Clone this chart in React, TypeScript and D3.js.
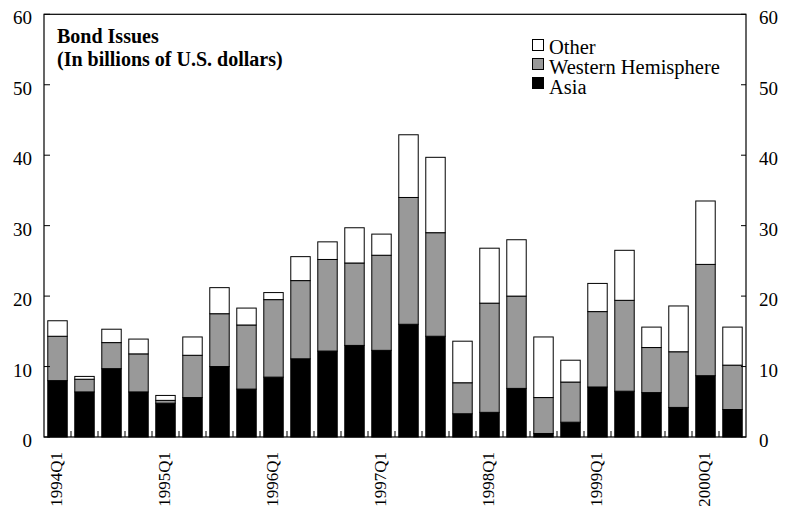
import * as d3 from 'd3';
import { useEffect, useRef } from 'react';

// quarterly bond issues, billions of US$
const quarters = [
  '1994Q1', '1994Q2', '1994Q3', '1994Q4',
  '1995Q1', '1995Q2', '1995Q3', '1995Q4',
  '1996Q1', '1996Q2', '1996Q3', '1996Q4',
  '1997Q1', '1997Q2', '1997Q3', '1997Q4',
  '1998Q1', '1998Q2', '1998Q3', '1998Q4',
  '1999Q1', '1999Q2', '1999Q3', '1999Q4',
  '2000Q1', '2000Q2',
];
const asia = [8.0, 6.4, 9.7, 6.4, 4.8, 5.6, 10.0, 6.8, 8.5, 11.1, 12.2, 13.0, 12.3, 16.0, 14.3, 3.3, 3.5, 6.9, 0.5, 2.1, 7.1, 6.5, 6.3, 4.2, 8.7, 3.9];
const westernHemisphere = [6.3, 1.8, 3.7, 5.4, 0.4, 6.0, 7.5, 9.1, 11.0, 11.1, 13.0, 11.7, 13.5, 18.0, 14.7, 4.4, 15.5, 13.1, 5.1, 5.7, 10.7, 12.9, 6.4, 7.9, 15.8, 6.3];
const other = [2.2, 0.4, 1.9, 2.1, 0.7, 2.6, 3.7, 2.4, 1.0, 3.4, 2.5, 5.0, 3.0, 8.9, 10.7, 5.9, 7.8, 8.0, 8.6, 3.1, 4.0, 7.1, 2.9, 6.5, 9.0, 5.4];
const yTicks = [0, 10, 20, 30, 40, 50, 60];
const legendItems = ['Other', 'Western Hemisphere', 'Asia'];

const keys = ['asia', 'west', 'other'];
const colors = { asia: '#000000', west: '#999999', other: '#ffffff' };
const font = '"Liberation Serif", "Times New Roman", serif';

const App = () => {
  const ref = useRef<SVGSVGElement>(null);

  useEffect(() => {
    const svg = d3.select(ref.current);
    svg.selectAll('*').remove();

    const W = 786, H = 508;
    const left = 44, right = 746, top = 14.3, bottom = 437;

    const rows = quarters.map((q, i) => ({
      q, asia: asia[i], west: westernHemisphere[i], other: other[i],
    }));

    const x = d3.scaleBand().domain(quarters).range([left, right])
      .paddingInner(0.28).paddingOuter(0.14);
    const y = d3.scaleLinear().domain([0, 60]).range([bottom, top]);

    const stack = d3.stack<any>().keys(keys)(rows);

    // bars
    svg.append('g')
      .selectAll('g')
      .data(stack)
      .join('g')
      .attr('fill', d => colors[d.key])
      .selectAll('rect')
      .data(d => d)
      .join('rect')
      .attr('x', d => x(d.data.q))
      .attr('y', d => y(d[1]))
      .attr('width', x.bandwidth())
      .attr('height', d => y(d[0]) - y(d[1]))
      .attr('stroke', '#000')
      .attr('stroke-width', 1);

    // frame
    svg.append('rect')
      .attr('x', left).attr('y', top)
      .attr('width', right - left).attr('height', bottom - top)
      .attr('fill', 'none').attr('stroke', '#000').attr('stroke-width', 1.2);

    // y ticks both sides, pointing inward
    const yt = svg.append('g');
    yt.selectAll('.tl').data(yTicks).join('line')
      .attr('x1', left).attr('x2', left + 6)
      .attr('y1', d => y(d)).attr('y2', d => y(d))
      .attr('stroke', '#000');
    yt.selectAll('.tr').data(yTicks).join('line')
      .attr('class', 'tr')
      .attr('x1', right - 5).attr('x2', right)
      .attr('y1', d => y(d)).attr('y2', d => y(d))
      .attr('stroke', '#000');
    yt.selectAll('.ll').data(yTicks).join('text')
      .attr('class', 'll')
      .attr('x', 32).attr('y', d => y(d) + 10)
      .attr('text-anchor', 'end')
      .attr('font-family', font).attr('font-size', 19)
      .text(d => d);
    yt.selectAll('.lr').data(yTicks).join('text')
      .attr('class', 'lr')
      .attr('x', 759).attr('y', d => y(d) + 10)
      .attr('font-family', font).attr('font-size', 19)
      .text(d => d);

    // x ticks between bars
    const step = x.step();
    svg.append('g').selectAll('line')
      .data(quarters.slice(1))
      .join('line')
      .attr('x1', (d, i) => left + (i + 1) * step)
      .attr('x2', (d, i) => left + (i + 1) * step)
      .attr('y1', bottom).attr('y2', bottom - 6)
      .attr('stroke', '#000');

    // x labels, Q1 only
    svg.append('g').selectAll('text')
      .data(quarters.filter(q => q.endsWith('Q1')))
      .join('text')
      .attr('transform', d => `translate(${x(d) + x.bandwidth() / 2 + 4},${bottom + 15}) rotate(-90)`)
      .attr('text-anchor', 'end')
      .attr('font-family', font).attr('font-size', 17)
      .text(d => d);

    // title
    const title = svg.append('text')
      .attr('font-family', font).attr('font-size', 20).attr('font-weight', 'bold');
    title.append('tspan').attr('x', 57).attr('y', 43).text('Bond Issues');
    title.append('tspan').attr('x', 57).attr('y', 66).text('(In billions of U.S. dollars)');

    // legend
    const lg = svg.append('g');
    const legendFill = [colors.other, colors.west, colors.asia];
    legendItems.forEach((name, i) => {
      lg.append('rect')
        .attr('x', 532.5).attr('y', 39.5 + i * 19)
        .attr('width', 11).attr('height', 11)
        .attr('fill', legendFill[i]).attr('stroke', '#000');
      lg.append('text')
        .attr('x', 549).attr('y', 53.5 + i * 20)
        .attr('font-family', font).attr('font-size', 20.5)
        .text(name);
    });

    svg.attr('width', W).attr('height', H);
  }, []);

  return (
    <svg ref={ref} width={786} height={508}
      style={{ position: 'absolute', left: 0, top: 0, background: '#fff' }} />
  );
};

export default App;
